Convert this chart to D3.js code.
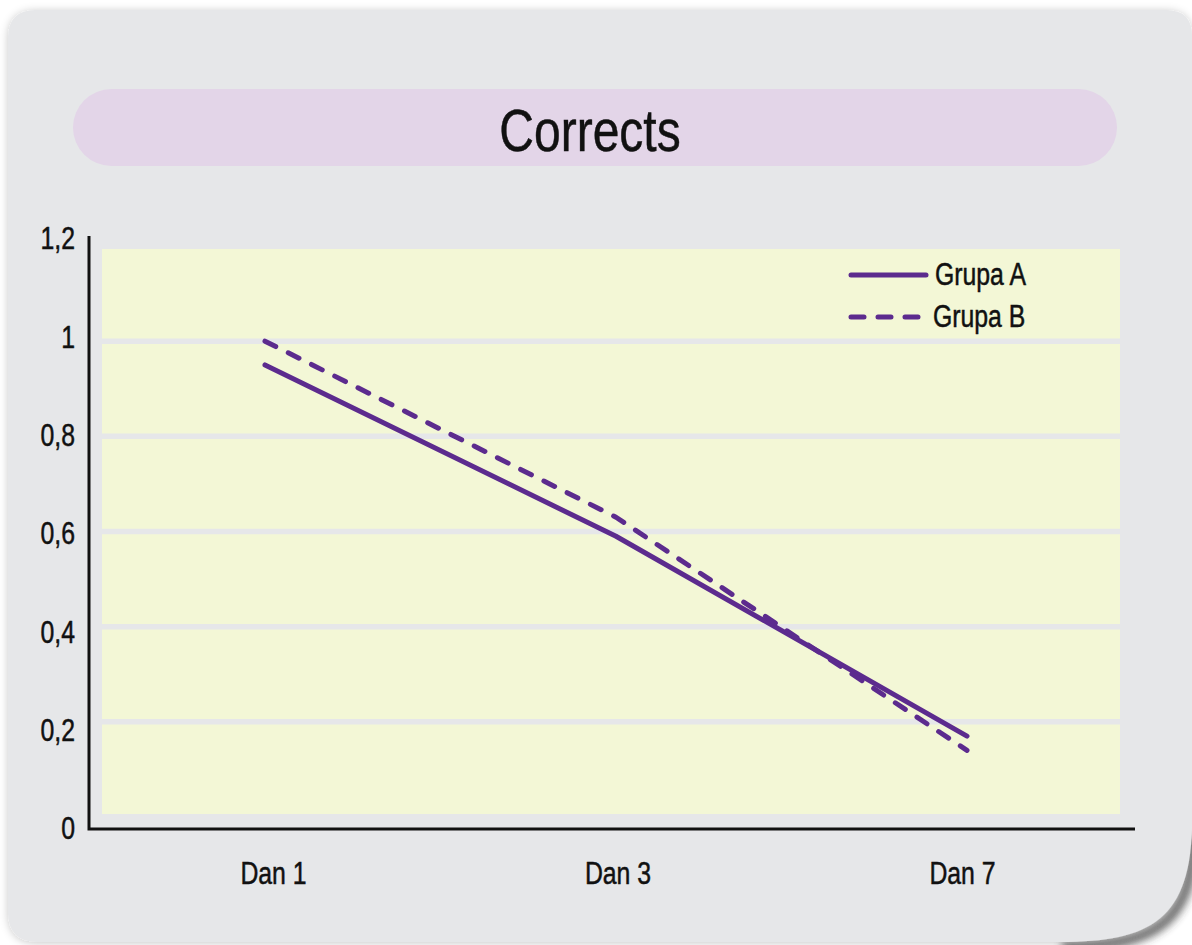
<!DOCTYPE html>
<html>
<head>
<meta charset="utf-8">
<script src="https://cdn.jsdelivr.net/npm/d3@7"></script>
<style>
  body { margin: 0; background: #fff; }
  svg { display: block; }
  text { font-family: "Liberation Sans", Arial, sans-serif; fill: #111; stroke: #111; stroke-width: 0.5px; }
</style>
</head>
<body>
<svg width="1192" height="945"></svg>
<script>
// chart data
const days = ["Dan 1", "Dan 3", "Dan 7"];
const grupaA = [0.95, 0.59, 0.17];
const grupaB = [1.0, 0.63, 0.14];
const yTicks = [0, 0.2, 0.4, 0.6, 0.8, 1, 1.2];
const seriesNames = ["Grupa A", "Grupa B"];
const title = "Corrects";

const purple = "#5c2b8e";
const K = 0.8; // squeeze text horizontally, no condensed font installed
const svg = d3.select("svg");

// fake a condensed face: scale x, keep anchor position
function narrow(sel) {
  sel.each(function () {
    const t = d3.select(this);
    const x0 = +t.attr("x") || 0;
    t.attr("x", x0 / K).attr("transform", `scale(${K},1)`);
  });
}

const defs = svg.append("defs");
const sh = defs.append("filter").attr("id", "sh")
    .attr("x", -0.05).attr("y", -0.05).attr("width", 1.1).attr("height", 1.1);
sh.append("feDropShadow").attr("dx", 0).attr("dy", 1)
    .attr("stdDeviation", 4).attr("flood-color", "#000").attr("flood-opacity", 0.22);
const blur = defs.append("filter").attr("id", "blur")
    .attr("x", -0.5).attr("y", -0.5).attr("width", 2).attr("height", 2);
blur.append("feGaussianBlur").attr("stdDeviation", 4);

// panel with curled bottom-right corner
const panelPath = "M8,38 Q8,10 36,10 H1166 Q1192,10 1192,36 V820 " +
    "C1192,920 1150,942 1060,942 H38 Q8,942 8,912 Z";
svg.append("path")
    .attr("d", "M1194,835 C1194,925 1152,947 1062,947")
    .attr("fill", "none").attr("stroke", "#333").attr("stroke-width", 9)
    .attr("opacity", 0.8).attr("filter", "url(#blur)");
svg.append("path").attr("d", panelPath).attr("fill", "#e6e7e9").attr("filter", "url(#sh)");

// title pill
svg.append("rect")
    .attr("x", 73).attr("y", 89).attr("width", 1044).attr("height", 77)
    .attr("rx", 38.5).attr("fill", "#e3d5e8");
svg.append("text")
    .attr("x", 590).attr("y", 151).attr("text-anchor", "middle")
    .attr("font-size", 60).text(title)
    .call(narrow);

// scales
const plot = {left: 102, right: 1120, top: 249, bottom: 814};
const y = d3.scaleLinear().domain([0, 1.2]).range([817, 246]);
const yLab = d3.scaleLinear().domain([0, 1.2]).range([829, 239]);
const x = d3.scalePoint().domain(days).range([265, 967]);
const xLab = d3.scalePoint().domain(days).range([273, 962]);

// plot background + gridlines
svg.append("rect")
    .attr("x", plot.left).attr("y", plot.top)
    .attr("width", plot.right - plot.left).attr("height", plot.bottom - plot.top)
    .attr("fill", "#f3f7d6");
svg.append("g").selectAll("line")
    .data(yTicks.filter(d => d > 0 && d < 1.2))
    .join("line")
    .attr("x1", plot.left).attr("x2", plot.right)
    .attr("y1", d => y(d)).attr("y2", d => y(d))
    .attr("stroke", "#e6e7e9").attr("stroke-width", 5.5);

// axes
const fmt = d3.formatLocale({decimal: ",", thousands: ".", grouping: [3], currency: ["", ""]}).format("~g");
const yAxis = svg.append("g")
    .attr("transform", "translate(89,0)")
    .call(d3.axisLeft(yLab).tickValues(yTicks).tickFormat(fmt).tickSize(0).tickPadding(14));
yAxis.select(".domain").remove();
yAxis.selectAll("text").attr("font-size", 31).attr("font-family", null).attr("fill", "#111").call(narrow);

const xAxis = svg.append("g")
    .attr("transform", "translate(0,829)")
    .call(d3.axisBottom(xLab).tickSize(0).tickPadding(33));
xAxis.select(".domain").remove();
xAxis.selectAll("text").attr("font-size", 31).attr("font-family", null).attr("fill", "#111").call(narrow);

svg.append("path")
    .attr("d", "M89,236 V829 H1135")
    .attr("fill", "none").attr("stroke", "#111").attr("stroke-width", 3);

// series lines
const line = d3.line().x((d, i) => x(days[i])).y(d => y(d));
const series = [
  {name: seriesNames[0], values: grupaA, dash: null},
  {name: seriesNames[1], values: grupaB, dash: "12,14"}
];
svg.append("g").selectAll("path")
    .data(series)
    .join("path")
    .attr("d", d => line(d.values))
    .attr("fill", "none")
    .attr("stroke", purple)
    .attr("stroke-width", 5)
    .attr("stroke-linecap", "round")
    .attr("stroke-linejoin", "round")
    .attr("stroke-dasharray", d => d.dash);

// legend
const legend = svg.append("g").selectAll("g")
    .data(series)
    .join("g")
    .attr("transform", (d, i) => `translate(851,${275 + i * 42})`);
legend.append("line")
    .attr("x1", 0).attr("x2", (d, i) => i ? 67 : 75)
    .attr("stroke", purple).attr("stroke-width", 5)
    .attr("stroke-linecap", "round")
    .attr("stroke-dasharray", d => d.dash ? "13,14" : null);
legend.append("text")
    .attr("x", (d, i) => i ? 82 : 84).attr("y", 10)
    .attr("font-size", 31)
    .text(d => d.name)
    .call(narrow);
</script>
</body>
</html>
